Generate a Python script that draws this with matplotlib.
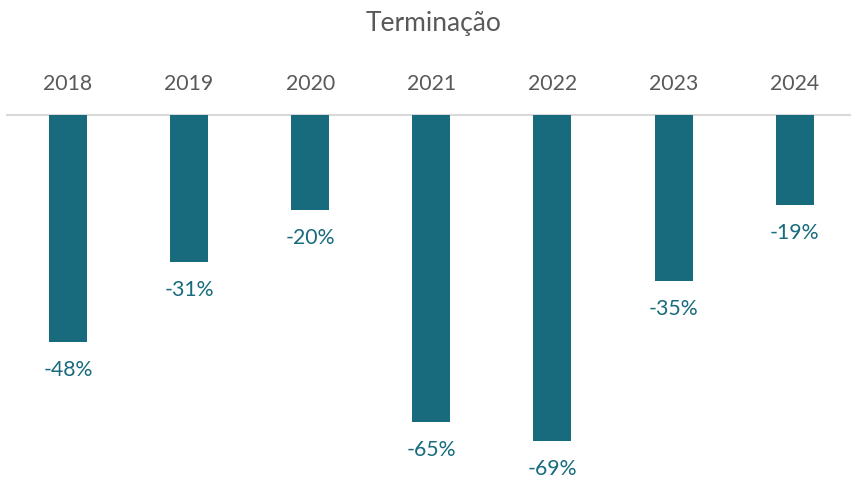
import matplotlib
matplotlib.use("Agg")
import matplotlib.pyplot as plt

years = ["2018", "2019", "2020", "2021", "2022", "2023", "2024"]
values = [-48, -31, -20, -65, -69, -35, -19]
title = "Terminação"

W, H = 851, 478
fig = plt.figure(figsize=(W / 100, H / 100), dpi=100)
ax = fig.add_axes([0, 0, 1, 1])

x0, dx = 68, 121.1
y0, dy = 115, 4.73
ax.set_xlim(-x0 / dx, (W - x0) / dx)
ax.set_ylim(-(H - y0) / dy, y0 / dy)
ax.axis("off")

bar_color = "#176B7D"
gray = "#595959"
font = "Lato"

xs = list(range(len(years)))
ax.bar(xs, values, width=38 / dx, color=bar_color, zorder=2)
ax.axhline(0, xmin=7 / W, xmax=1, color="#D9D9D9", lw=1.5, zorder=1)

for i, (yr, v) in enumerate(zip(years, values)):
    ax.text(i, (y0 - 84) / dy, yr, ha="center", va="center", fontsize=15.3,
            color=gray, family=font)
    ax.text(i, v - 28 / dy, f"{v}%", ha="center", va="center", fontsize=15.3,
            color=bar_color, family=font)

fig.text(434 / W, 1 - 23 / H, title, ha="center", va="center", fontsize=19,
         color=gray, family=font)

fig.savefig("out.png", dpi=100)
